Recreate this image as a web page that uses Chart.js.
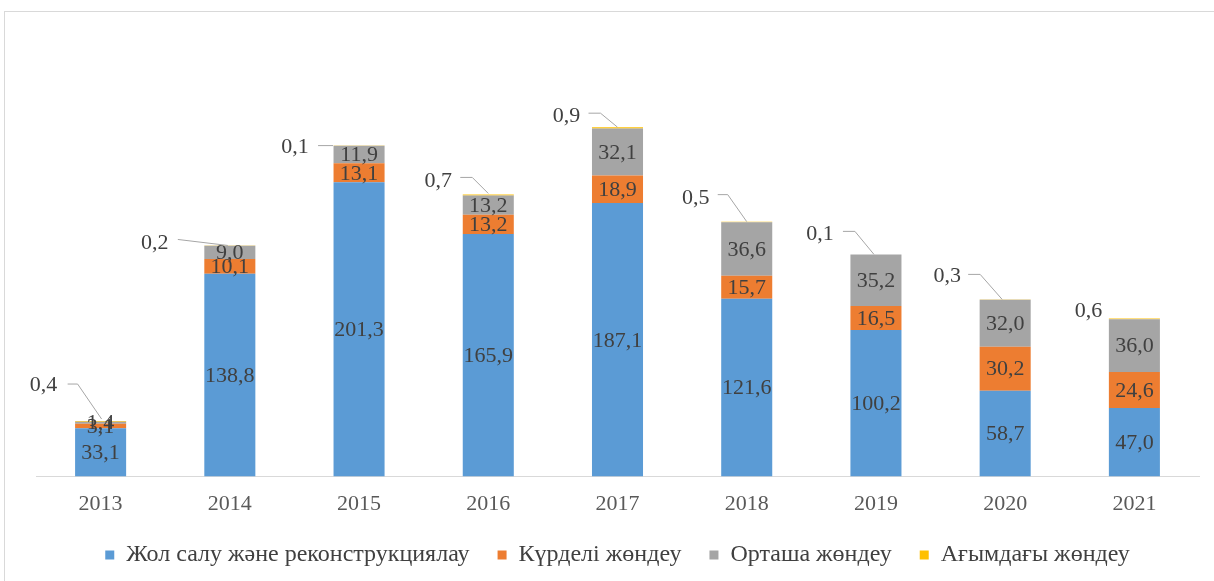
<!DOCTYPE html>
<html>
<head>
<meta charset="utf-8">
<script src="https://cdn.jsdelivr.net/npm/chart.js@4.4.0/dist/chart.umd.min.js"></script>
<style>
  html, body { margin: 0; padding: 0; background: #fff; overflow: hidden; }
  #frame { position: absolute; left: 4px; top: 11px; width: 1230px; height: 600px; border: 1px solid #D9D9D9; box-sizing: border-box; }
  #wrap { position: absolute; left: 0; top: 0; width: 1214px; height: 581px; }
</style>
</head>
<body>
<div id="frame"></div>
<div id="wrap"><canvas id="c" width="1214" height="581"></canvas></div>
<script>
const categories = ['2013','2014','2015','2016','2017','2018','2019','2020','2021'];
const seriesNames = ['Жол салу және реконструкциялау','Күрделі жөндеу','Орташа жөндеу','Ағымдағы жөндеу'];
const roadBuild   = [33.1, 138.8, 201.3, 165.9, 187.1, 121.6, 100.2, 58.7, 47.0];
const capitalRep  = [3.1, 10.1, 13.1, 13.2, 18.9, 15.7, 16.5, 30.2, 24.6];
const mediumRep   = [1.4, 9.0, 11.9, 13.2, 32.1, 36.6, 35.2, 32.0, 36.0];
const currentRep  = [0.4, 0.2, 0.1, 0.7, 0.9, 0.5, 0.1, 0.3, 0.6];
const colors = ['#5B9BD5', '#ED7D31', '#A5A5A5', '#FFC000'];

// callout style: label offset and leader-line points relative to bar top-centre
const callouts = [
  {lx:-57, ly:-36, pts:[[-33,-37],[-23,-37],[1,-2]]},
  {lx:-75, ly:-2,  pts:[[-52,-6],[-2,0]]},
  {lx:-64, ly:2,   pts:[[-41,0],[-26,0]]},
  {lx:-50, ly:-13, pts:[[-28,-17],[-16,-17],[0,-1]]},
  {lx:-51, ly:-11, pts:[[-29,-14],[-17,-14],[0,0]]},
  {lx:-51, ly:-23, pts:[[-29,-27],[-19,-27],[0,0]]},
  {lx:-56, ly:-20, pts:[[-33,-23],[-21,-23],[-2,0]]},
  {lx:-58, ly:-23, pts:[[-37,-25],[-25,-25],[-3,0]]},
  {lx:-46, ly:-7,  pts:[]}
];

const FONT = '"Liberation Serif", "Times New Roman", serif';
const fmt = v => v.toFixed(1).replace('.', ',');

const labelPlugin = {
  id: 'labels',
  afterDatasetsDraw(chart) {
    const ctx = chart.ctx;
    ctx.save();
    ctx.font = '22px ' + FONT;
    ctx.fillStyle = '#404040';
    ctx.textAlign = 'center';
    ctx.textBaseline = 'middle';
    for (let d = 0; d < 3; d++) {
      const meta = chart.getDatasetMeta(d);
      meta.data.forEach((el, i) => {
        const v = chart.data.datasets[d].data[i];
        ctx.fillText(fmt(v), el.x, (el.y + el.base) / 2 + 1);
      });
    }
    const meta = chart.getDatasetMeta(3);
    meta.data.forEach((el, i) => {
      const c = callouts[i];
      const v = chart.data.datasets[3].data[i];
      const top = el.y;
      if (c.pts.length) {
        ctx.strokeStyle = '#A6A6A6';
        ctx.lineWidth = 1;
        ctx.beginPath();
        c.pts.forEach((p, k) => {
          if (k === 0) ctx.moveTo(el.x + p[0], top + p[1]);
          else ctx.lineTo(el.x + p[0], top + p[1]);
        });
        ctx.stroke();
      }
      ctx.fillStyle = '#404040';
      ctx.fillText(fmt(v), el.x + c.lx, top + c.ly);
    });
    ctx.restore();
  }
};

const datasets = [roadBuild, capitalRep, mediumRep, currentRep].map((arr, k) => ({
  label: seriesNames[k],
  data: arr,
  backgroundColor: colors[k],
  borderWidth: 0,
  barPercentage: 0.395,
  categoryPercentage: 1.0
}));

new Chart(document.getElementById('c'), {
  type: 'bar',
  data: { labels: categories, datasets },
  options: {
    responsive: false,
    animation: false,
    layout: { padding: { left: 36, right: 15, top: 38, bottom: 4 } },
    scales: {
      x: {
        stacked: true,
        grid: { display: false, drawTicks: false },
        border: { display: true, color: '#D9D9D9', width: 1 },
        ticks: { color: '#595959', font: { family: FONT, size: 22 }, padding: 14 },
        afterFit(scale) { scale.height -= 16; }
      },
      y: {
        stacked: true,
        display: false,
        min: 0,
        max: 300
      }
    },
    plugins: {
      legend: {
        position: 'bottom',
        labels: {
          boxWidth: 9,
          boxHeight: 9,
          color: '#404040',
          font: { family: FONT, size: 24 },
          padding: 28
        }
      },
      tooltip: { enabled: false }
    }
  },
  plugins: [labelPlugin]
});
</script>
</body>
</html>
